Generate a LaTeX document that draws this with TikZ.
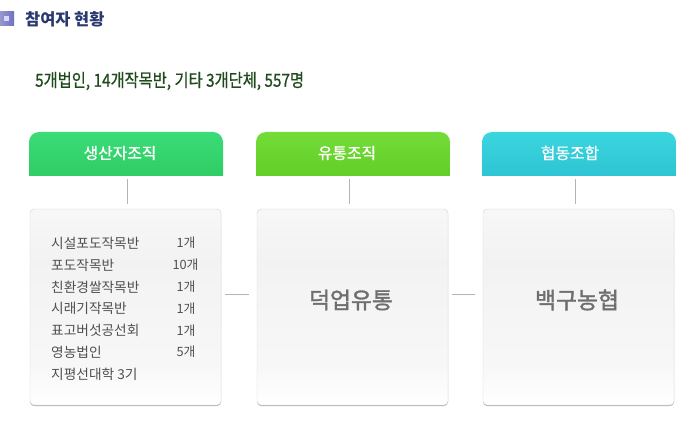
\documentclass[tikz,border=0pt]{standalone}
\usepackage{fontspec}
\setmainfont{Noto Sans CJK KR}
\newfontfamily\bigfont[FakeBold=1.5]{Noto Sans CJK KR}
\newfontfamily\midfont[FakeBold=0.8]{Noto Sans CJK KR}
\usetikzlibrary{calc,shadows}
\definecolor{titlecol}{HTML}{2A3A6E}
\definecolor{subcol}{HTML}{1E4A1C}
\definecolor{listcol}{HTML}{505050}
\definecolor{bigcol}{HTML}{6E6E6E}
\definecolor{linecol}{HTML}{B4B4B4}
\definecolor{greena}{HTML}{3ADC78}
\definecolor{greenb}{HTML}{30CC64}
\definecolor{limea}{HTML}{74DC38}
\definecolor{limeb}{HTML}{62CE28}
\definecolor{cyana}{HTML}{3AD6DE}
\definecolor{cyanb}{HTML}{2EC4D4}
\pgfdeclareverticalshading{bodyshade}{100bp}{color(0bp)=(white); color(25bp)=(white); color(35bp)=(white!97!black); color(62bp)=(white!95!black); color(75bp)=(white!97!black); color(100bp)=(white)}
\tikzstyle{centered} = [align=center, text centered, inner sep=0pt]
\tikzstyle{headtext} = [centered, text=white, font=\fontsize{15.8}{18}\midfont]
\tikzstyle{bodybox} = [draw=black!17, rounded corners=4pt, shading=bodyshade, minimum width=191pt, minimum height=196pt, inner sep=0pt, drop shadow={shadow xshift=0pt, shadow yshift=-1pt, opacity=0.3, fill=black}]
\tikzstyle{bigtext} = [centered, text=bigcol, font=\fontsize{22.8}{25}\bigfont]
\tikzstyle{rowname} = [right, inner sep=0pt, text=listcol, font=\fontsize{13.7}{16}\selectfont]
\tikzstyle{rowcount} = [inner sep=0pt, text=listcol, font=\fontsize{12.8}{16}\selectfont]
\tikzstyle{link} = [linecol, line width=0.8pt]
\newcommand{\headshape}[3]{\shade [top color=#2, bottom color=#3] [sharp corners] (#1,176) [rounded corners=10pt] -- (#1,132) -- (#1+194,132) [sharp corners] -- (#1+194,176) -- cycle;}
\begin{document}
\begin{tikzpicture}[x=1pt,y=1pt]
  \useasboundingbox (0,0) rectangle (688,426);
  \begin{scope}[yscale=-1,yshift=-426pt]
    % heading
    \shade [left color=blue!35!gray!60, right color=blue!40!gray!80] (0,12) rectangle (14,26);
    \fill [white!85!blue] (4,16) rectangle (9,21);
    \node [right, inner sep=0pt, text=titlecol, font=\fontsize{16.4}{18}\selectfont\bfseries](title) at (25, 19) {참여자 현황};
    \node [right, inner sep=0pt, text=subcol, font=\fontsize{18}{20}\midfont, xscale=0.85](sub) at (35, 81) {5개법인, 14개작목반, 기타 3개단체, 557명};

    % top row
    \headshape{29}{greena}{greenb}
    \headshape{256}{limea}{limeb}
    \headshape{482}{cyana}{cyanb}
    \node [headtext](head1) at (120, 153) {생산자조직};
    \node [headtext](head2) at (347, 153) {유통조직};
    \node [headtext](head3) at (570, 153) {협동조합};
    \coordinate (headb1) at (127, 176);
    \coordinate (headb2) at (349, 176);
    \coordinate (headb3) at (575, 176);

    % boxes
    \node [bodybox](body1) at (125.5, 307) {};
    \node [bodybox](body2) at (352.5, 307) {};
    \node [bodybox](body3) at (578.5, 307) {};
    \node [bigtext](big2) at (351, 300) {덕업유통};
    \node [bigtext](big3) at (577, 300) {백구농협};

    % list in first box
    \node [rowname](r1) at (51, 243) {시설포도작목반};
    \node [rowname](r2) at (51, 265) {포도작목반};
    \node [rowname](r3) at (51, 287) {친환경쌀작목반};
    \node [rowname](r4) at (51, 308.5) {시래기작목반};
    \node [rowname](r5) at (51, 330.5) {표고버섯공선회};
    \node [rowname](r6) at (51, 352) {영농법인};
    \node [rowname](r7) at (51, 374) {지평선대학 3기};
    \node [rowcount](n1) at (186, 243) {1개};
    \node [rowcount](n2) at (185.5, 265) {10개};
    \node [rowcount](n3) at (186, 287) {1개};
    \node [rowcount](n4) at (186, 308.5) {1개};
    \node [rowcount](n5) at (186, 330.5) {1개};
    \node [rowcount](n6) at (186, 352) {5개};

    % connectors
    \draw [link, shorten <=3pt, shorten >=5pt] (headb1) -- (headb1 |- body1.north);
    \draw [link, shorten <=3pt, shorten >=5pt] (headb2) -- (headb2 |- body2.north);
    \draw [link, shorten <=3pt, shorten >=5pt] (headb3) -- (headb3 |- body3.north);
    \draw [link, shorten <=4pt, shorten >=8pt] ($(body1.east)+(0,-12.5)$) -- ($(body2.west)+(0,-12.5)$);
    \draw [link, shorten <=4pt, shorten >=8pt] ($(body2.east)+(0,-12.5)$) -- ($(body3.west)+(0,-12.5)$);
  \end{scope}
\end{tikzpicture}
\end{document}
